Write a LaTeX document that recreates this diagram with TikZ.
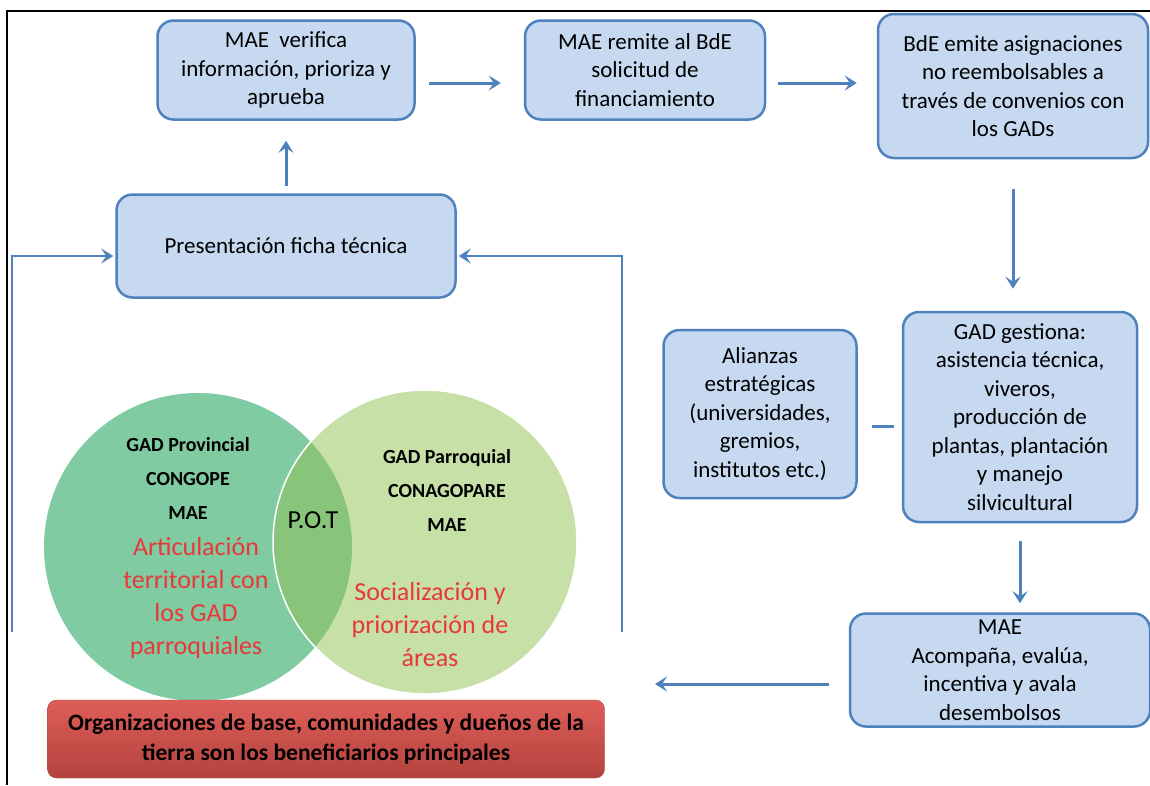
\documentclass[tikz,border=0pt]{standalone}
\usepackage{fontspec}
\setmainfont{Carlito}
\usetikzlibrary{arrows.meta}

\definecolor{boxfill}{HTML}{C6D9F0}
\definecolor{boxline}{HTML}{4F81BD}
\definecolor{leftc}{HTML}{80CBA1}
\definecolor{rightc}{HTML}{C6E0A7}
\definecolor{lensc}{HTML}{88C57B}
\definecolor{redtop}{HTML}{DE5E59}
\definecolor{redbot}{HTML}{B4423E}
\definecolor{vennred}{HTML}{E8383A}

\tikzset{
  box/.style={draw=boxline, fill=boxfill, line width=2.5pt, rounded corners=16pt,
    align=center, inner sep=0pt, font=\fontsize{23pt}{28.5pt}\selectfont},
  redbox/.style={draw=redbot, top color=redtop, bottom color=redbot, rounded corners=9pt,
    align=center, inner sep=0pt, font=\bfseries\fontsize{23.5pt}{30pt}\selectfont},
  arr/.style={draw=boxline, line width=3pt, -{Stealth[length=12pt,width=15pt,inset=5pt]}},
  link/.style={draw=boxline, line width=3pt},
  venntxt/.style={align=center, inner sep=0pt, font=\bfseries\fontsize{20pt}{34pt}\selectfont},
  vennred/.style={align=center, inner sep=0pt, text=vennred, font=\fontsize{26pt}{33pt}\selectfont},
}

\begin{document}
\begin{tikzpicture}[x=1pt,y=-1pt]
  \useasboundingbox (0,0) rectangle (1150,785);
  \draw[line width=2.5pt] (7,785) -- (7,11) -- (1150,11);

  % venn
  \fill[leftc] (198,547) circle (154pt);
  \fill[rightc] (425,542) circle (152pt);
  \begin{scope}
    \clip (198,547) circle (154pt);
    \fill[lensc] (425,542) circle (152pt);
  \end{scope}
  \draw[white, line width=1.5pt] (425,542) circle (152pt);
  \node[venntxt] (V1) at (188,478) {GAD Provincial\\CONGOPE\\MAE};
  \node[vennred] (V2) at (196,598) {Articulación\\territorial con\\los GAD\\parroquiales};
  \node[venntxt] (V3) at (447,490) {GAD Parroquial\\CONAGOPARE\\MAE};
  \node[vennred] (V4) at (430,625) {Socialización y\\priorización de\\áreas};
  \node[font=\fontsize{26pt}{30pt}\selectfont] (POT) at (313,520) {P.O.T};

  % boxes
  \node[box, minimum width=257pt, minimum height=99pt] (A) at (286,70)
    {MAE\ \ verifica\\información, prioriza y\\aprueba};
  \node[box, minimum width=240pt, minimum height=99pt] (B) at (645,70)
    {MAE remite al BdE\\solicitud de\\financiamiento};
  \node[box, minimum width=270pt, minimum height=144pt] (C) at (1013,86)
    {BdE emite asignaciones\\no reembolsables a\\través de convenios con\\los GADs};
  \node[box, minimum width=339pt, minimum height=103pt] (P) at (286,246)
    {Presentación ficha técnica};
  \node[box, minimum width=193pt, minimum height=168pt] (Al) at (760,414)
    {Alianzas\\estratégicas\\(universidades,\\gremios,\\institutos etc.)};
  \node[box, minimum width=234pt, minimum height=210pt] (G) at (1020,417)
    {GAD gestiona:\\asistencia técnica,\\viveros,\\producción de\\plantas, plantación\\y manejo\\silvicultural};
  \node[box, minimum width=300pt, minimum height=113pt] (M) at (1000,670)
    {MAE\\Acompaña, evalúa,\\incentiva y avala\\desembolsos};
  \node[redbox, minimum width=557pt, minimum height=78pt] (R) at (326,739)
    {Organizaciones de base, comunidades y dueños de la\\tierra son los beneficiarios principales};

  \coordinate (fbL) at (12,632);
  \coordinate (fbR) at (622,632);
  \coordinate (mEnd) at (655,684);

  % connectors
  \draw[arr, shorten <=13pt, shorten >=23pt] ([yshift=-13pt]A.east) -- ([yshift=-13pt]A.east -| B.west);
  \draw[arr, shorten <=12pt, shorten >=20pt] ([yshift=-13pt]B.east) -- ([yshift=-13pt]B.east -| C.west);
  \draw[arr, shorten <=30pt, shorten >=22pt] (C.south) -- (C.south |- G.north);
  \draw[arr, shorten <=18pt, shorten >=9pt] (G.south) -- (G.south |- M.north);
  \draw[arr, shorten <=7pt, shorten >=20pt] (P.north) -- (P.north |- A.south);
  \draw[arr, shorten <=20pt] ([yshift=-14pt]M.west) -- (mEnd);
  \draw[link, shorten <=14pt, shorten >=8pt] ([yshift=-12pt]Al.east) -- ([yshift=-12pt]Al.east -| G.west);
  \draw[arr, line width=2.5pt, shorten >=2pt] (fbL) |- ([yshift=-10pt]P.west);
  \draw[arr, line width=2.5pt, shorten >=2pt] (fbR) |- ([yshift=-10pt]P.east);
\end{tikzpicture}
\end{document}
